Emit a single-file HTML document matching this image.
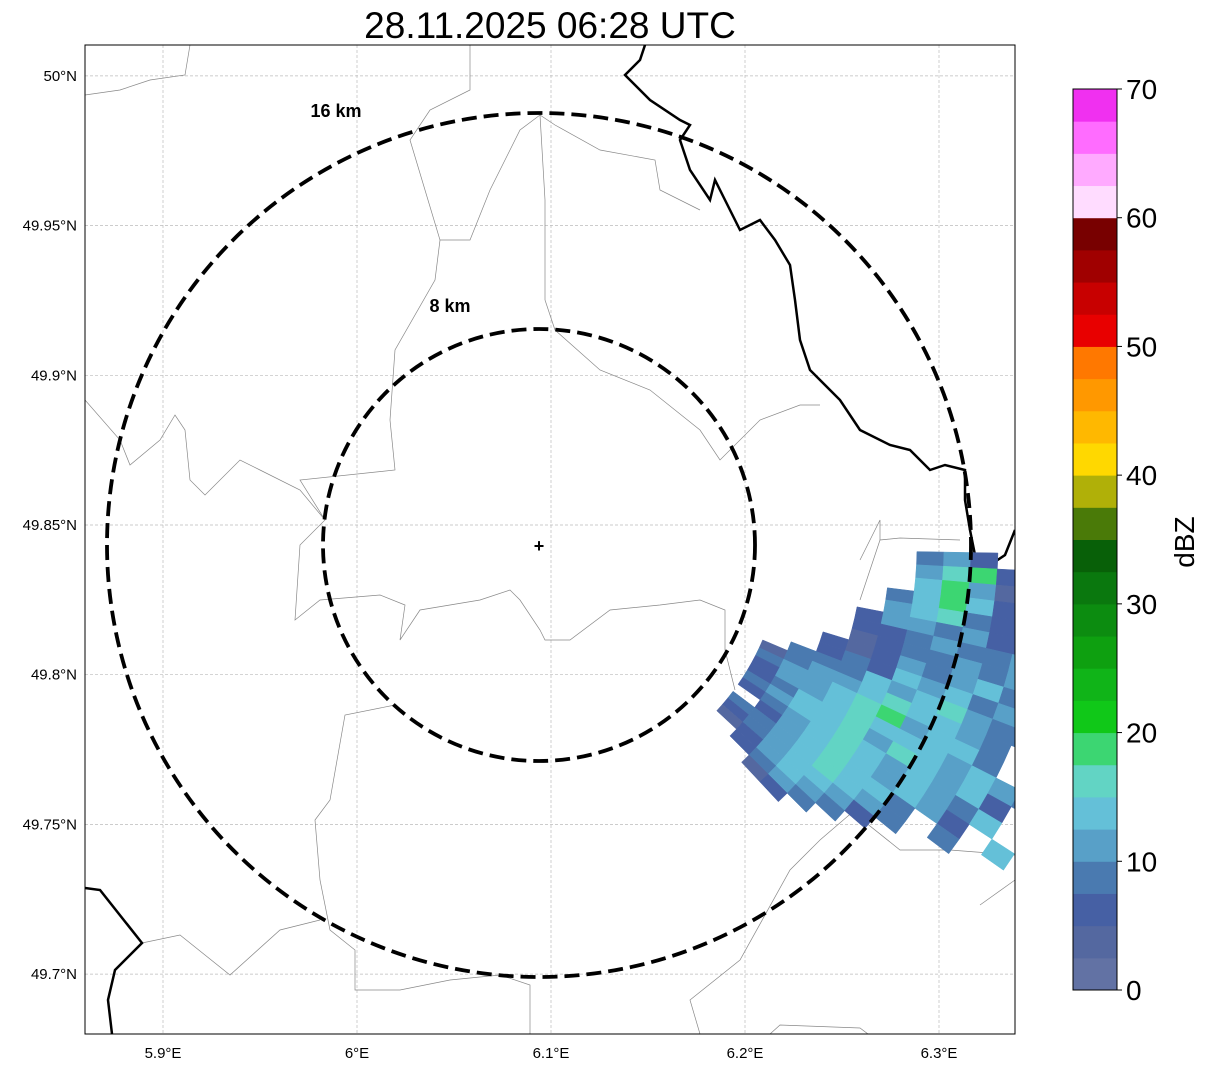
<!DOCTYPE html>
<html><head><meta charset="utf-8"><style>
body{margin:0;background:#fff;}
svg{display:block;font-family:"Liberation Sans","DejaVu Sans",sans-serif;}
</style></head><body>
<svg id="chart" width="1207" height="1069" viewBox="0 0 1207 1069">
<defs><clipPath id="plotclip"><rect x="85" y="45" width="930" height="989"/></clipPath></defs>
<text x="550" y="38" font-size="37" text-anchor="middle">28.11.2025 06:28 UTC</text>
<g clip-path="url(#plotclip)">
<g id="grid"></g>
<g id="map"></g>
<g id="echo"></g>
<g id="rings"></g>
</g>
<rect x="85" y="45" width="930" height="989" fill="none" stroke="#000" stroke-width="1"/>
<g id="axes"></g>
<g id="cbar"></g>
</svg>
<script>
const lonTicks=[5.9,6.0,6.1,6.2,6.3];
const lonLabels=["5.9°E","6°E","6.1°E","6.2°E","6.3°E"];
const latTicks=[50.0,49.95,49.9,49.85,49.8,49.75,49.7];
const latLabels=["50°N","49.95°N","49.9°N","49.85°N","49.8°N","49.75°N","49.7°N"];
const ringKm=[8,16];
const ringLabels=["8 km","16 km"];
const cbarTicks=[0,10,20,30,40,50,60,70];
const cbarColors=["#6272a4","#5468a0","#4660a4","#4a7ab0","#58a0c8","#64c0d8","#62d4c4","#3cd672","#10c818","#10b418","#0ea010","#0c8c10","#0a780e","#086008","#4a7a08","#b0b008","#ffd800","#ffb800","#ff9800","#ff7800","#e80000","#c80000","#a00000","#780000","#ffdcff","#ffaaff","#ff6cff","#f030f0"];
// radar echoes: rows per azimuth (deg from north), columns per range bin (km), values dBZ
const azStart=92, azStep=2, rStart=9.5, rStep=1;
const echoRows=[
".....342....",
".....4672...",
".....5741...",
"....35752...",
"....45632.1.",
"...2443422..",
"...22343342.",
"...1233434..",
"..2124345322",
"..2325453432",
".33354564332",
"1344565543..",
"3445674553..",
"244565554543",
"23556465452.",
"34556545435.",
"2345654542.5",
".2456553.3..",
"33456543....",
"2345542.....",
"124543......",
".2343.......",
"..12........"];
const codeDbz={"1":3,"2":6,"3":8,"4":11,"5":13,"6":16,"7":19};
const NS="http://www.w3.org/2000/svg";
const X0=551,PXLON=1940,Y0=525,PXLAT=2994;
const xS=lon=>X0+(lon-6.1)*PXLON;
const yS=lat=>Y0-(lat-49.85)*PXLAT;
const cx=539,cy=545,pxKm=27;
function mk(t,a,p){const e=document.createElementNS(NS,t);for(const k in a)e.setAttribute(k,a[k]);p.appendChild(e);return e;}
const grid=document.getElementById('grid'),axes=document.getElementById('axes');
lonTicks.forEach((v,i)=>{const x=xS(v);
 const l=mk('line',{x1:x,x2:x,y1:45,y2:1034,stroke:'#bbb','stroke-width':0.7,'stroke-dasharray':'3,2'},grid);
 
 const t=mk('text',{x:x,y:1058,'font-size':15,'text-anchor':'middle'},axes);t.textContent=lonLabels[i];
 });
latTicks.forEach((v,i)=>{const y=yS(v);
 const l=mk('line',{x1:85,x2:1015,y1:y,y2:y,stroke:'#bbb','stroke-width':0.7,'stroke-dasharray':'3,2'},grid);
 
 const t=mk('text',{x:77,y:y+5,'font-size':15,'text-anchor':'end'},axes);t.textContent=latLabels[i];
 });
const map=document.getElementById('map');
const thin=[
"85,95 120,90 150,80 185,75 190,45",
"470,45 470,90 430,110 410,140 440,240 435,280 395,350 390,420 395,470 300,480 325,520 300,545 295,620 320,600 380,595 405,605 400,640 420,610 480,600 510,590 520,600 540,630 545,640 570,640 610,610 660,605 700,600 725,610 725,650 735,690",
"85,400 120,440 130,465 160,440 175,415 185,430 190,480 205,495 240,460 260,470 300,490 325,520",
"540,115 520,130 490,190 470,240 440,240",
"540,115 555,125 600,150 655,160 660,190 700,210",
"540,115 545,200 545,300 555,330 600,370 650,390 700,430 720,460 760,420 800,405 820,405",
"395,705 345,715 330,800 315,820 320,880 330,930 355,950 355,990 400,990 450,980 500,975 530,985 530,1034",
"142,943 180,935 230,975 280,930 320,920",
"860,600 880,540 900,538 960,540",
"850,810 900,850 950,850 1015,855",
"980,905 1015,880",
"700,1034 690,1000 740,960 790,870 820,840 855,810",
"770,1034 780,1025 860,1028 868,1034",
"860,560 880,520 880,540"];
thin.forEach(p=>{const e=mk('polyline',{points:p,fill:'none',stroke:'#888','stroke-width':0.7},map);
 });
const thick=["645,45 640,60 625,75 635,85 650,100 680,120 690,125 680,140 690,170 710,200 715,180 725,200 740,230 760,220 775,240 790,265 795,300 800,340 810,370 820,380 840,400 860,430 890,445 910,450 930,470 945,465 965,470 965,500 970,530 975,555 990,565 1005,555 1015,530",
"85,888 100,890 142,943 115,970 108,1000 112,1034"];
thick.forEach(p=>{const e=mk('polyline',{points:p,fill:'none',stroke:'#000','stroke-width':2.5},map);
 });
const echo=document.getElementById('echo');
function dbzColor(v){return cbarColors[Math.min(27,Math.max(0,Math.floor(v/2.5)))];}
function pol(az,r){const a=az*Math.PI/180;return [cx+Math.sin(a)*r*pxKm,cy-Math.cos(a)*r*pxKm];}
echoRows.forEach((row,i)=>{const a0=azStart+i*azStep-azStep/2,a1=a0+azStep;
 for(let j=0;j<row.length;j++){const c=row[j];if(!(c in codeDbz))continue;
  const r0=rStart+j*rStep-rStep/2,r1=r0+rStep;
  const pts=[pol(a0,r0),pol(a1,r0),pol(a1,r1),pol(a0,r1)].map(p=>p.join(',')).join(' ');
  const e=mk('polygon',{points:pts,fill:dbzColor(codeDbz[c]),stroke:dbzColor(codeDbz[c]),'stroke-width':0.5},echo);
  }});
const rings=document.getElementById('rings');
const ringLabelPos=[[450,312],[336,117]];
ringKm.forEach((k,i)=>{const c=mk('circle',{cx:cx,cy:cy,r:k*pxKm,fill:'none',stroke:'#000','stroke-width':3.8,'stroke-dasharray':'15,7'},rings);
 
 const t=mk('text',{x:ringLabelPos[i][0],y:ringLabelPos[i][1],'font-size':18,'font-weight':'bold','text-anchor':'middle'},rings);
 t.textContent=ringLabels[i];});
const m=mk('text',{x:cx,y:cy+7,'font-size':18,'font-weight':'bold','text-anchor':'middle'},rings);m.textContent='+';

const cb=document.getElementById('cbar');const cbT=89,cbB=990,cbX=1073,cbW=44;const per=(cbB-cbT)/70;
cbarColors.forEach((c,i)=>{const e=mk('rect',{x:cbX,y:cbB-(i+1)*2.5*per,width:cbW,height:2.5*per+0.5,fill:c},cb);
 });
mk('rect',{x:cbX,y:cbT,width:cbW,height:cbB-cbT,fill:'none',stroke:'#000','stroke-width':1},cb);
cbarTicks.forEach(v=>{const y=cbB-v*per;mk('line',{x1:cbX+cbW,x2:cbX+cbW+5,y1:y,y2:y,stroke:'#000'},cb);
 const t=mk('text',{x:cbX+cbW+9,y:y+10,'font-size':28},cb);t.textContent=v;
 });
const ct=mk('text',{x:1194,y:542,'font-size':28,'text-anchor':'middle',transform:'rotate(-90 1194 542)'},cb);ct.textContent='dBZ';

</script>
</body></html>
